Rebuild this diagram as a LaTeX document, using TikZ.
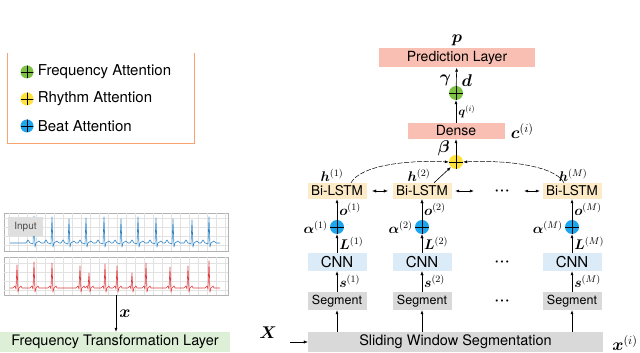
\RequirePackage{fix-cm}
\documentclass[tikz,border=0pt]{standalone}
\usepackage{amsmath}
\usepackage{bm}
\usepackage[no-math]{fontspec}
\setmainfont{TeX Gyre Heros}
\usetikzlibrary{arrows.meta, positioning}

\definecolor{predRed}{HTML}{F8BFB2}
\definecolor{lstmYellow}{HTML}{FCEBC6}
\definecolor{cnnBlue}{HTML}{DCEBF8}
\definecolor{segGray}{HTML}{D9D9D9}
\definecolor{ftlGreen}{HTML}{DDEFD6}
\definecolor{legOrange}{HTML}{F6A46B}
\definecolor{attGreen}{HTML}{7DC242}
\definecolor{attYellow}{HTML}{FFE23A}
\definecolor{attBlue}{HTML}{1DA6EE}
\definecolor{ecgBlue}{HTML}{2E86C8}
\definecolor{ecgRed}{HTML}{E0383C}
\definecolor{gridGray}{HTML}{E2E2E2}

\begin{document}
\begin{tikzpicture}[x=1pt, y=1pt,
    box/.style = {inner sep=0pt, minimum width=59pt, minimum height=18pt, font=\fontsize{14}{16}\selectfont},
    seg/.style = {box, fill=segGray, font=\fontsize{12.5}{14}\selectfont},
    cnn/.style = {box, fill=cnnBlue, font=\fontsize{15}{17}\selectfont},
    lstm/.style = {box, fill=lstmYellow, minimum height=16pt, font=\fontsize{13.5}{15}\selectfont},
    layer/.style = {box, fill=#1, font=\fontsize{14.5}{16}\selectfont, minimum height=20pt},
    att/.style = {circle, fill=#1, inner sep=0pt, minimum size=14pt,
        path picture={\draw[line width=0.6pt] (path picture bounding box.north) -- (path picture bounding box.south)
            (path picture bounding box.west) -- (path picture bounding box.east);}},
    leg/.style = {inner sep=0pt, font=\fontsize{15}{17}\selectfont},
    lab/.style = {inner sep=1pt, font=\fontsize{14}{16}\selectfont},
    big/.style = {inner sep=1pt, font=\fontsize{17}{19}\selectfont},
    arr/.style = {-{Latex[length=4pt, width=3pt]}, line width=0.6pt},
    dbl/.style = {{Latex[length=4pt, width=3pt]}-{Latex[length=4pt, width=3pt]}, line width=0.6pt},
    panel/.style = {draw=gray!60, line width=0.6pt, minimum width=224pt, minimum height=38pt, inner sep=0pt}]
    \useasboundingbox (0,0) rectangle (640,353);

    % legend
    \draw[legOrange, line width=0.8pt] (7,300) -- (7,210) -- (194,210) -- (194,300);
    \node[att=attGreen, minimum size=13pt] (legfreq) at (27,281) {};
    \node[att=attYellow, minimum size=13pt] (legrhythm) at (27,254) {};
    \node[att=attBlue, minimum size=13pt] (legbeat) at (27,227) {};
    \node[leg, right=4pt of legfreq] (tfreq) {Frequency Attention};
    \node[leg, right=4pt of legrhythm] (trhythm) {Rhythm Attention};
    \node[leg, right=4pt of legbeat] (tbeat) {Beat Attention};

    % input signals
    \node[panel] (ecgin) at (116,121) {};
    \node[panel] (ecgout) at (116,77) {};
    \draw[gridGray, line width=0.3pt, step=9pt] (ecgin.south west) grid (ecgin.north east);
    \draw[gridGray, line width=0.3pt, step=9pt] (ecgout.south west) grid (ecgout.north east);
    \draw[ecgBlue, line width=0.6pt, line join=round] (10,110)
        \foreach \s/\h in {34/137, 52/136, 69/134, 86/135, 104/136, 121/134, 138/136, 156/135, 173/134, 192/133, 209/136}
        { -- (\s-8,110) -- (\s-6,113) -- (\s-4,110) -- (\s-1,109) -- (\s,\h) -- (\s+1,106) -- (\s+2,110) -- (\s+5,112) -- (\s+7,110) }
        -- (220,110);
    \draw[ecgRed, line width=0.6pt, line join=round] (10,65)
        \foreach \s/\h in {17/88, 34/91, 52/90, 80/87, 89/80, 105/89, 117/87, 132/80, 146/90, 170/86, 188/87, 209/92}
        { -- (\s-4,65) -- (\s-2,67) -- (\s-1,64) -- (\s,\h) -- (\s+1,61) -- (\s+2,65) -- (\s+4,67) -- (\s+5,65) }
        -- (220,65);
    \node[fill=gray!25, text=black!70, inner sep=0pt, minimum width=35pt, minimum height=19pt,
        font=\fontsize{10}{12}\selectfont] (inlab) at (25.5,126.5) {Input};

    \node[layer=ftlGreen, minimum width=230pt] (ftl) at (115,11) {Frequency Transformation Layer};
    \draw[arr] (ecgout.south) -- (ecgout.south |- ftl.north) node[midway, right=2pt, big] {$\bm{x}$};

    % segments, CNN, beat attention, Bi-LSTM
    \node[layer=segGray, minimum width=295pt] (slide) at (455.5,11) {Sliding Window Segmentation};
    \node[big] (Xin) at (268,20) {$\bm{X}$};
    \coordinate (xstart) at (290,11);
    \draw[arr, line width=0.15pt] (xstart) -- (slide);
    \node[big, right=8pt of slide, yshift=-1pt] (xout) {$\bm{x}^{(i)}$};

    \foreach \i/\x/\w in {1/337/0.6pt, 2/422/0.15pt, M/572/0.6pt} {
        \node[seg] (seg\i) at (\x,52) {Segment};
        \node[cnn] (cnn\i) at (\x,91) {CNN};
        \node[att=attBlue] (beat\i) at (\x,126) {};
        \node[lstm] (lstm\i) at (\x,162) {Bi-LSTM};
        \node[lab, left=1pt of beat\i] (alpha\i) {$\bm{\alpha}^{(\i)}$};
        \draw[arr] (seg\i |- slide.north) -- (seg\i);
        \draw[arr, line width=\w] (seg\i) -- node[right=1pt, lab] {$\bm{s}^{(\i)}$} (cnn\i);
        \draw[arr, line width=\w] (cnn\i) -- node[right=1pt, lab] {$\bm{L}^{(\i)}$} (beat\i);
        \draw[arr, line width=\w] (beat\i) -- node[right=1pt, lab] {$\bm{o}^{(\i)}$} (lstm\i);
    }
    \foreach \y in {52,91,162}
        \node[inner sep=0pt, font=\fontsize{14}{16}\selectfont] (dots\y) at (502,\y) {$\bm{\cdot\!\cdot\!\cdot}$};

    \draw[dbl, line width=0.15pt, shorten <=5.5pt, shorten >=4.5pt] (lstm1) -- (lstm2);
    \draw[dbl, shorten <=3.5pt, shorten >=20.5pt] (lstm2) -- (dots162);
    \draw[dbl, shorten <=14.5pt, shorten >=2.5pt] (dots162) -- (lstmM);

    % rhythm attention and top layers
    \node[att=attYellow] (rhythm) at (456,191) {};
    \node[box, fill=predRed, minimum width=97pt, minimum height=16pt] (dense) at (456,222) {Dense};
    \node[att=attGreen] (freq) at (456,260) {};
    \node[box, fill=predRed, minimum width=156pt, minimum height=19pt] (pred) at (457,295) {Prediction Layer};
    \node[big, above=1pt of pred] (plab) {$\bm{p}$};
    \node[big, right=5pt of dense] (clab) {$\bm{c}^{(i)}$};

    \node[lab, above=0pt of lstm1, xshift=-5pt] (h1) {$\bm{h}^{(1)}$};
    \node[lab, above=0pt of lstm2, xshift=-3pt] (h2) {$\bm{h}^{(2)}$};
    \node[lab, above=0pt of lstmM, xshift=1pt] (hM) {$\bm{h}^{(M)}$};

    \draw[arr, line width=0.5pt, dash pattern=on 5pt off 1.5pt] ([xshift=14pt]lstm1.north)
        .. controls +(10,18) and +(-40,2) .. (rhythm.west);
    \draw[arr, line width=0.5pt, dash pattern=on 5pt off 1.5pt] ([xshift=-8pt]lstmM.north)
        .. controls +(-10,18) and +(40,2) .. (rhythm.east);
    \draw[arr] ([xshift=12pt]lstm2.north) -- (rhythm.south west);

    \draw[arr] (rhythm) -- node[pos=0.4, left=5pt, big] {$\bm{\beta}$} (dense);
    \draw[arr] (dense) -- node[right=1pt, lab, font=\fontsize{12}{14}\selectfont] {$\bm{q}^{(i)}$} (freq);
    \draw[arr] (freq) -- node[pos=0.3, left=4pt, big] {$\bm{\gamma}$}
        node[pos=0.3, right=4pt, big] {$\bm{d}$} (pred);
\end{tikzpicture}
\end{document}
